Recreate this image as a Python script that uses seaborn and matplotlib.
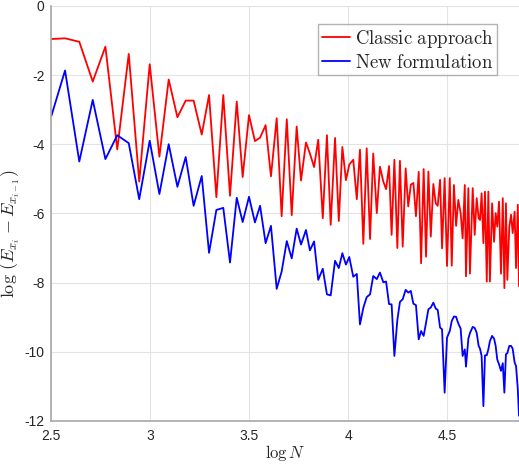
import numpy as np
import pandas as pd
import matplotlib
matplotlib.use("Agg")
import matplotlib.pyplot as plt
import seaborn as sns

# log N sample points shared by both series
log_n = [
    2.500, 2.569, 2.641, 2.709, 2.773, 2.833, 2.891, 2.944, 2.997, 3.046,
    3.093, 3.137, 3.179, 3.219, 3.260, 3.297, 3.334, 3.369, 3.403, 3.437,
    3.467, 3.499, 3.529, 3.555, 3.583, 3.610, 3.639, 3.664, 3.690, 3.715,
    3.740, 3.762, 3.787, 3.807, 3.828, 3.849, 3.872, 3.893, 3.912, 3.934,
    3.953, 3.971, 3.989, 4.006, 4.026, 4.044, 4.060, 4.077, 4.094, 4.111,
    4.127, 4.145, 4.161, 4.178, 4.192, 4.207, 4.220, 4.234, 4.249, 4.262,
    4.276, 4.291, 4.304, 4.317, 4.330, 4.343, 4.357, 4.369, 4.382, 4.394,
    4.406, 4.418, 4.431, 4.443, 4.453, 4.465, 4.475, 4.488, 4.500, 4.514,
    4.524, 4.535, 4.546, 4.557, 4.569, 4.579, 4.590, 4.596, 4.608, 4.616,
    4.630, 4.640, 4.650, 4.660, 4.667, 4.675, 4.684, 4.692, 4.701, 4.709,
    4.717, 4.728, 4.738, 4.746, 4.754, 4.763, 4.773, 4.782, 4.790, 4.798,
    4.805, 4.815, 4.824, 4.832, 4.842, 4.849, 4.858, 4.864,
]

# log(E_{x_i} - E_{x_{i-1}}) for the classic approach
classic = [
    -0.96, -0.94, -1.04, -2.19, -1.18, -4.15, -1.39, -5.08, -1.69, -4.36,
    -2.13, -3.22, -2.74, -2.74, -3.72, -2.58, -5.53, -2.58, -5.49, -2.77,
    -4.95, -3.16, -3.91, -3.81, -3.45, -4.93, -3.25, -6.08, -3.28, -6.05,
    -3.49, -5.05, -3.95, -4.27, -4.66, -3.87, -6.14, -3.74, -6.33, -3.82,
    -6.22, -4.08, -5.04, -4.59, -4.45, -5.59, -4.16, -6.88, -4.12, -6.74,
    -4.27, -5.99, -4.65, -5.08, -5.30, -4.63, -6.62, -4.45, -7.00, -4.48,
    -6.96, -4.70, -5.80, -5.17, -5.12, -6.08, -4.80, -7.44, -4.72, -7.25,
    -4.79, -6.67, -5.15, -5.71, -5.78, -5.03, -7.01, -4.98, -7.52, -4.98,
    -7.51, -5.18, -6.36, -5.61, -5.99, -6.72, -5.18, -7.82, -5.27, -7.74,
    -5.27, -6.62, -5.56, -6.14, -6.19, -5.42, -6.86, -5.37, -7.97, -5.37,
    -7.97, -5.71, -6.82, -5.99, -6.38, -5.66, -7.74, -5.56, -8.16, -5.71,
    -7.92, -6.38, -6.04, -6.57, -5.95, -7.58, -5.75, -8.11,
]

# log(E_{x_i} - E_{x_{i-1}}) for the new formulation
new = [
    -3.18, -1.87, -4.50, -2.72, -4.43, -3.74, -3.97, -5.59, -3.90, -5.44,
    -4.00, -5.23, -4.37, -5.78, -4.92, -7.14, -5.90, -5.84, -7.42, -5.55,
    -6.25, -5.52, -6.26, -5.78, -6.86, -6.36, -8.18, -7.68, -6.80, -7.30,
    -6.44, -6.90, -6.48, -7.07, -6.81, -7.92, -7.60, -8.34, -8.37, -7.37,
    -7.58, -7.15, -7.48, -7.26, -7.83, -7.75, -9.21, -8.73, -8.42, -8.34,
    -7.81, -7.90, -7.71, -7.99, -7.97, -8.62, -8.63, -10.12, -9.08, -8.56,
    -8.48, -8.21, -8.29, -8.24, -8.61, -8.65, -9.64, -9.40, -9.54, -9.16,
    -8.77, -8.72, -8.58, -8.75, -8.79, -9.30, -9.35, -11.18, -9.59, -9.40,
    -9.11, -8.98, -8.99, -9.18, -9.33, -10.12, -9.93, -10.43, -9.62, -9.46,
    -9.28, -9.31, -9.45, -9.83, -9.91, -10.12, -11.57, -10.10, -10.10, -9.93,
    -9.69, -9.54, -9.62, -9.83, -10.22, -10.36, -10.55, -10.33, -11.18, -10.07,
    -10.04, -9.83, -9.83, -9.91, -10.31, -10.41, -11.08, -11.85,
]

labels = [r"$\mathrm{Classic\ approach}$", r"$\mathrm{New\ formulation}$"]
x_ticks = [2.5, 3, 3.5, 4, 4.5]
x_tick_labels = ["2.5", "3", "3.5", "4", "4.5"]
y_ticks = [0, -2, -4, -6, -8, -10, -12]
y_tick_labels = ["0", "-2", "-4", "-6", "-8", "-10", "-12"]

df = pd.concat([
    pd.DataFrame({"logN": log_n, "value": classic, "method": labels[0]}),
    pd.DataFrame({"logN": log_n, "value": new, "method": labels[1]}),
], ignore_index=True)

sns.set_theme(style="white")
plt.rcParams["font.family"] = ["Liberation Sans", "DejaVu Sans"]
plt.rcParams["mathtext.fontset"] = "cm"

W, H = 519, 467
fig = plt.figure(figsize=(W / 100, H / 100), dpi=100)
ax = fig.add_axes([51.4 / W, (H - 421.0) / H, (W - 51.4) / W, (421.0 - 5.8) / H])

sns.lineplot(
    data=df, x="logN", y="value", hue="method", ax=ax,
    palette={labels[0]: "#ff0000", labels[1]: "#0000ff"},
    estimator=None, sort=False, linewidth=1.3,
)

ax.set_xlim(2.5, 4.864)
ax.set_ylim(-12, 0)
ax.set_xticks(x_ticks)
ax.set_xticklabels(x_tick_labels)
ax.set_yticks(y_ticks)
ax.set_yticklabels(y_tick_labels)

ax.grid(True, color="#e3e3e3", linewidth=0.8)
ax.set_axisbelow(True)
for side in ("top", "right"):
    ax.spines[side].set_visible(False)
for side in ("left", "bottom"):
    ax.spines[side].set_color("#a8a8a8")
    ax.spines[side].set_linewidth(1.2)

ax.tick_params(axis="both", labelsize=10, labelcolor="#262626", direction="in",
               length=3, width=0.8, color="#a8a8a8")
ax.tick_params(axis="x", pad=6)
ax.tick_params(axis="y", pad=5)

ax.set_xlabel(r"$\log N$", fontsize=12, labelpad=0)
ax.set_ylabel(r"$\log\,(E_{x_i} - E_{x_{i-1}})$", fontsize=13)
ax.yaxis.set_label_coords(-0.062, 0.45)

leg = ax.legend(loc="upper right", bbox_to_anchor=(0.953, 0.956),
                borderaxespad=0, fontsize=13.5, frameon=True, fancybox=False,
                handlelength=1.5, handletextpad=0.25, borderpad=0.2,
                labelspacing=0.2, title=None)
leg.get_frame().set_edgecolor("#a0a0a0")
leg.get_frame().set_linewidth(1.0)
for line in leg.get_lines():
    line.set_linewidth(1.3)

fig.savefig("out.png", dpi=100)
